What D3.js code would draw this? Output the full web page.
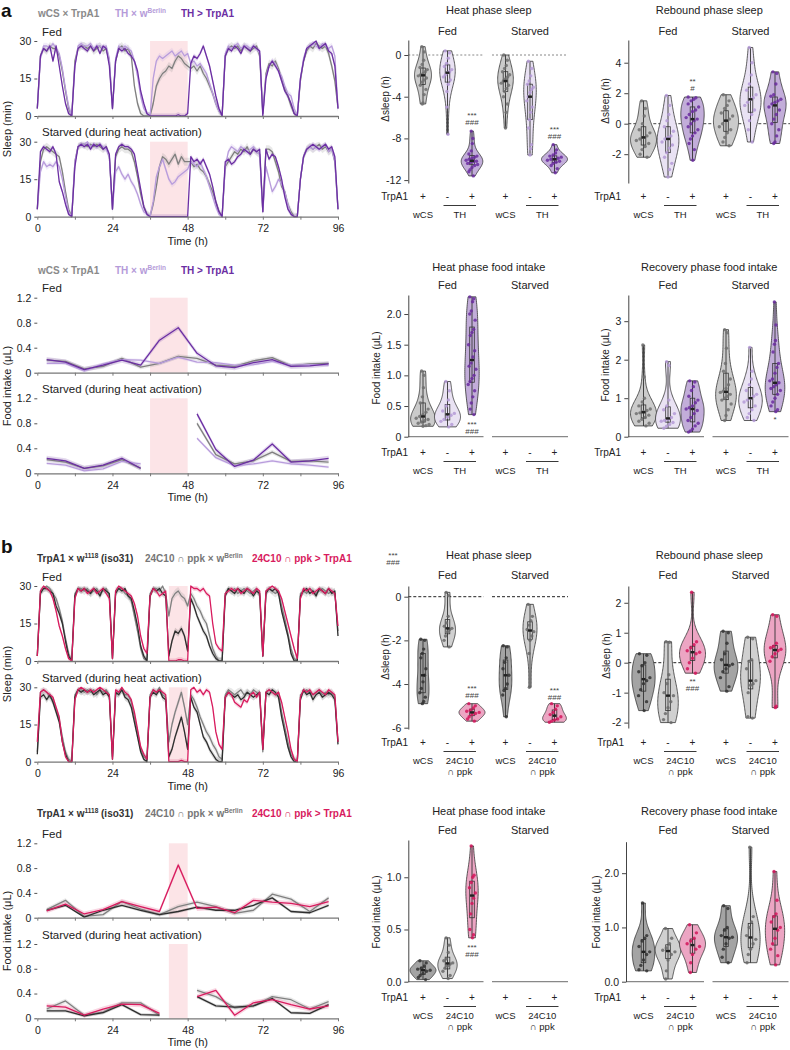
<!DOCTYPE html>
<html><head><meta charset="utf-8">
<script src="https://cdn.jsdelivr.net/npm/d3@7/dist/d3.min.js"></script>
<style>html,body{margin:0;padding:0;background:#fff;}</style>
</head><body>
<script>
// ===================== DATA =====================
const hours = d3.range(0, 97);            // hourly bins 0..96 h
const foodT = [3,9,15,21,27,33,39,45,51,57,63,69,75,81,87,93];
const timeTicks = [0,12,24,36,48,60,72,84,96];

// ---- a: sleep (min / 30 min), Fed ----
const aFedWCS = [3,24,27,26,28,27,27,24,18,10,3,0,22, 27,28,28,27,28,26,27,28,26,27,22,3, 22,27,28,26,27,24,12,5,1,0,0,0, 5,12,15,17,18,20,19,22,24,23,21,20, 19,20,18,20,17,15,12,9,5,2,0,24, 27,28,27,28,26,28,27,26,27,28,24,1, 17,21,20,22,19,15,11,8,4,1,0,14, 22,26,28,27,29,28,27,28,25,20,14,3];
const aFedTH  = [3,23,28,28,27,29,27,25,19,11,4,0,20, 28,29,28,28,29,27,28,28,27,28,23,3, 23,28,27,28,27,26,22,16,8,3,1,0, 15,22,24,23,24,25,26,24,25,26,24,25, 21,22,20,21,19,17,13,9,5,2,0,25, 28,27,28,29,27,28,28,27,28,27,25,1, 16,20,22,21,18,16,12,9,8,3,0,15, 23,27,28,29,28,27,29,28,27,28,24,3];
const aFedTrp = [3,24,27,26,28,22,28,20,12,5,1,0,20, 27,28,27,26,28,26,28,25,28,27,20,3, 22,27,26,27,25,24,22,18,10,5,1,0, 0,0,0,0,0,0,0,0,0.5,0,0,1, 21,24,23,25,28,24,20,14,8,3,0,24, 27,26,28,27,25,28,27,26,28,27,26,0, 15,20,22,20,18,14,10,8,5,1,0,15, 22,27,28,29,30,27,28,29,26,25,20,3];
// ---- a: sleep, Starved ----
const aStvWCS = [3,22,27,28,27,26,25,24,18,10,3,0,22, 28,29,29,28,29,28,29,28,27,28,24,3, 24,27,28,27,27,26,22,16,9,4,1,0, 5,12,20,24,23,21,23,25,21,24,22,22, 22,20,21,19,18,16,13,10,6,2,0,20, 22,24,26,25,27,26,28,25,27,26,25,2, 27,27,26,22,18,12,10,5,2,0,0,15, 24,27,28,27,28,29,27,28,26,27,22,3];
const aStvTH  = [3,18,22,20,21,20,22,20,15,8,2,0,22, 28,29,29,30,28,29,28,29,28,27,24,3, 18,20,17,15,17,14,12,9,5,2,1,0, 6,16,20,23,19,15,13,14,16,17,18,19, 22,21,20,22,19,16,12,8,4,1,0,20, 26,28,27,26,28,27,26,27,28,26,25,2, 20,15,10,12,15,13,10,5,1,0,0,15, 24,27,28,27,28,27,28,29,26,27,22,3];
const aStvTrp = [3,26,28,27,26,28,25,14,10,5,1,0,20, 28,29,28,29,27,29,28,29,27,28,25,3, 25,28,29,28,28,27,25,18,11,4,1,0, 0,0,0,0,0,0,0,0,0,0,0,0, 24,22,23,21,23,20,17,12,6,2,0,22, 23,21,22,24,25,27,26,25,27,26,27,2, 27,23,25,24,20,15,8,3,1,0,0,15, 24,27,28,29,28,27,28,29,27,28,24,3];

// ---- a: food intake (uL / 6 h) ----
const aFoodFedWCS = [0.20,0.18,0.06,0.10,0.23,0.09,0.15,0.26,0.23,0.12,0.10,0.19,0.24,0.11,0.14,0.15];
const aFoodFedTH  = [0.15,0.15,0.03,0.14,0.21,0.20,0.15,0.25,0.17,0.16,0.12,0.13,0.18,0.12,0.13,0.12];
const aFoodFedTrp = [0.21,0.17,0.05,0.12,0.20,0.12,0.52,0.72,0.31,0.11,0.08,0.16,0.21,0.10,0.11,0.14];
const aFoodStvWCS = [0.22,0.18,0.08,0.12,0.22,0.08,null,null,0.80,0.30,0.15,0.20,0.34,0.19,0.20,0.18];
const aFoodStvTH  = [0.16,0.13,0.04,0.07,0.19,0.15,null,null,0.56,0.25,0.12,0.15,0.20,0.15,0.13,0.10];
const aFoodStvTrp = [0.24,0.20,0.08,0.13,0.24,0.08,null,null,0.95,0.38,0.11,0.21,0.47,0.18,0.20,0.24];

// ---- b: sleep, Fed ----
const bFedIso = [2,27,29,29,28,27,22,19,15,8,2,0,26, 29,28,29,28,27,29,28,26,29,28,27,1, 27,29,28,29,26,25,20,14,6,2,0,26, 29,28,29,27,26,2,8,12,11,13,10,4, 25,22,18,15,12,10,6,3,1,0,0,26, 29,28,27,29,28,27,29,28,26,28,27,2, 27,29,28,29,27,20,15,10,3,0,0,26, 28,29,27,28,26,29,28,27,29,27,28,10];
const bFedGal = [2,28,29,30,29,27,25,21,16,9,3,0,27, 29,29,28,29,27,28,29,27,28,29,26,1, 28,29,29,27,26,24,18,12,5,1,0,27, 29,29,28,30,27,18,25,27,28,26,25,22, 27,25,22,20,17,15,10,5,2,0,0,27, 29,28,29,27,28,29,28,27,28,29,26,2, 28,29,28,27,28,22,17,11,5,1,0,27, 28,27,29,28,27,28,29,28,27,28,27,12];
const bFedTrp = [2,28,30,29,28,25,20,14,10,5,1,0,25, 29,28,29,27,28,29,27,28,29,27,25,1, 28,30,29,28,27,26,23,18,10,5,3,26, 29,28,26,27,28,0,0,0,0.5,0.5,0,0, 30,29,29,28,29,27,26,15,7,5,4,27, 28,29,28,29,27,28,29,28,27,29,28,2, 28,29,30,29,28,25,20,15,10,5,1,25, 29,28,29,27,28,29,28,27,29,28,27,14];
// ---- b: sleep, Starved ----
const bStvIso = [3,26,27,25,27,24,20,16,8,3,0,0,26, 29,28,29,28,29,27,28,29,27,28,26,1, 28,27,29,26,25,22,16,10,4,1,0,26, 28,27,29,26,25,2,5,10,14,18,12,5, 26,22,20,15,10,8,5,3,1,0,0,26, 28,27,26,27,25,26,28,27,26,27,28,5, 28,27,29,28,26,18,12,6,2,0,0,25, 29,27,28,25,27,28,26,27,28,27,25,7];
const bStvGal = [4,28,29,28,26,25,21,17,10,4,1,0,27, 29,29,28,29,28,29,27,29,28,29,27,2, 27,28,29,27,27,24,18,12,5,2,1,27, 29,28,30,27,26,8,15,20,24,28,22,15, 27,25,22,18,15,12,10,7,5,2,1,27, 29,28,27,28,29,27,28,27,29,28,27,4, 28,29,28,27,28,20,14,8,3,1,0,27, 28,29,28,27,28,29,27,28,27,28,26,8];
const bStvTrp = [8,28,29,28,27,26,22,18,8,2,0,0,25, 29,30,29,28,29,28,29,30,29,28,27,1, 29,28,30,28,27,25,20,13,6,3,1,26, 29,28,29,28,27,0,0,0,0,0.5,0,0, 29,30,28,29,27,29,28,22,12,7,5,26, 28,27,24,23,22,25,24,27,28,26,28,5, 28,29,28,27,28,24,18,12,5,1,0,26, 29,28,29,27,28,29,28,27,29,28,27,8];

// ---- b: food intake ----
const bFoodFedIso = [0.12,0.20,0.01,0.12,0.20,0.12,0.05,0.10,0.17,0.12,0.12,0.20,0.32,0.10,0.08,0.20];
const bFoodFedGal = [0.13,0.28,0.02,0.05,0.26,0.14,0.05,0.18,0.25,0.18,0.07,0.12,0.38,0.30,0.10,0.32];
const bFoodFedTrp = [0.11,0.22,0.06,0.13,0.26,0.18,0.10,0.85,0.15,0.17,0.08,0.28,0.25,0.23,0.18,0.26];
const bFoodStvIso = [0.12,0.12,0.04,0.09,0.22,0.06,0.05,null,0.35,0.20,0.18,0.20,0.32,0.09,0.08,0.22];
const bFoodStvGal = [0.15,0.28,0.05,0.10,0.25,0.25,0.05,null,0.45,0.35,0.17,0.20,0.35,0.30,0.15,0.27];
const bFoodStvTrp = [0.20,0.18,0.05,0.15,0.23,0.22,0.08,null,0.35,0.45,0.05,0.25,0.30,0.22,0.15,0.20];

// ---- violin data: [control, Gal4 x w, Gal4 > TrpA1] ----
const aHeatSleepFed = [
 [0.8,0.3,-0.5,-0.9,-1.2,-1.4,-1.6,-1.8,-1.9,-2.0,-2.2,-2.4,-2.6,-2.9,-3.3,-3.8,-4.6,-4.7],
 [0.4,0.2,-0.3,-0.8,-1.1,-1.4,-1.6,-1.7,-1.9,-2.1,-2.4,-2.8,-3.5,-5.0,-7.6],
 [-7.3,-8.0,-8.5,-9.2,-9.5,-9.7,-9.8,-9.9,-10.0,-10.1,-10.2,-10.2,-10.3,-10.4,-10.5,-10.6,-10.8,-11.0,-11.2,-11.6]];
const aHeatSleepStv = [
 [0,-0.5,-1.0,-1.3,-1.6,-1.9,-2.1,-2.3,-2.5,-2.7,-2.9,-3.2,-3.5,-4.0,-4.7,-5.5,-7.0],
 [-0.6,-1.3,-2.0,-2.5,-2.8,-3.1,-3.3,-3.6,-4.0,-4.4,-5.0,-5.5,-6.2,-7.0,-8.6,-9.0,-9.6],
 [-8.6,-9.1,-9.4,-9.6,-9.7,-9.8,-9.9,-10.0,-10.0,-10.1,-10.2,-10.3,-10.4,-10.6,-10.9,-11.3]];
const aReboundFed = [
 [1.5,1.0,0.5,0.0,-0.4,-0.6,-0.8,-0.9,-1.0,-1.1,-1.3,-1.5,-1.7,-2.0,-2.2],
 [1.85,1.2,0.6,0.2,-0.2,-0.5,-0.8,-0.9,-1.0,-1.2,-1.4,-1.6,-1.9,-2.2,-2.6,-3.0,-3.5],
 [1.75,1.7,1.6,1.5,1.3,1.1,0.9,0.8,0.6,0.4,0.3,0.2,0.0,-0.2,-0.4,-0.6,-0.8,-1.0,-1.3,-1.7,-2.4]];
const aReboundStv = [
 [1.9,1.5,1.2,1.0,0.7,0.5,0.3,0.2,0.0,-0.2,-0.4,-0.6,-0.9,-1.2,-1.45],
 [5.0,4.0,3.2,2.6,2.2,1.9,1.7,1.6,1.4,1.2,0.9,0.6,0.2,-0.4,-1.2],
 [3.4,3.3,2.6,1.9,1.8,1.6,1.5,1.4,1.3,1.1,0.9,0.6,0.3,0.0,-0.4,-0.8,-1.2,-1.3]];
const aHeatFoodFed = [
 [1.07,1.0,0.8,0.65,0.55,0.45,0.4,0.36,0.33,0.3,0.28,0.26,0.24,0.22,0.2,0.18,0.17],
 [0.9,0.75,0.6,0.5,0.42,0.38,0.35,0.32,0.28,0.25,0.2,0.16],
 [2.28,2.25,2.2,2.05,2.0,1.9,1.75,1.7,1.65,1.5,1.4,1.3,1.2,1.15,1.1,1.0,0.95,0.9,0.85,0.75,0.65,0.55,0.45,0.36]];
const aRecovFed = [
 [2.38,1.55,1.0,0.9,0.8,0.72,0.68,0.65,0.62,0.6,0.56,0.5,0.45,0.4,0.35,0.28],
 [1.95,1.85,0.95,0.8,0.7,0.6,0.5,0.45,0.42,0.4,0.37,0.32,0.27,0.22],
 [1.45,1.42,1.3,1.2,1.05,0.95,0.88,0.8,0.75,0.72,0.68,0.6,0.5,0.42,0.35,0.28,0.2,0.15,0.12]];
const aRecovStv = [
 [2.78,2.7,2.3,1.9,1.7,1.5,1.35,1.25,1.18,1.15,1.1,1.05,1.0,0.95,0.85,0.7,0.55,0.42],
 [2.32,1.7,1.5,1.35,1.2,1.1,1.05,1.0,0.95,0.9,0.8,0.7,0.6,0.5,0.42],
 [3.5,2.9,2.5,2.4,2.2,1.9,1.8,1.65,1.5,1.45,1.4,1.35,1.3,1.25,1.2,1.1,1.0,0.9,0.8,0.7,0.65]];

const bHeatSleepFed = [
 [-1.95,-2.0,-2.4,-2.6,-2.8,-3.3,-3.6,-3.9,-4.2,-4.4,-4.6,-4.8,-4.9],
 [0.2,0.05,-0.9,-1.2,-1.35,-1.45,-1.5,-1.6,-1.8,-2.0,-2.3],
 [-4.9,-5.0,-5.1,-5.2,-5.25,-5.3,-5.35,-5.4,-5.5,-5.6,-5.7]];
const bHeatSleepStv = [
 [-2.25,-2.3,-2.8,-3.0,-3.3,-3.6,-4.0,-4.2,-4.3,-4.5,-5.5],
 [-0.35,-0.9,-1.1,-1.3,-1.5,-1.6,-1.8,-2.0,-2.6,-4.15],
 [-4.9,-5.0,-5.15,-5.3,-5.4,-5.5,-5.6,-5.65,-5.7,-5.75]];
const bReboundFed = [
 [0.3,0.25,0.0,-0.1,-0.3,-0.5,-0.6,-0.7,-0.9,-1.1,-1.3,-1.6],
 [0.7,0.68,-0.4,-0.7,-1.0,-1.1,-1.3,-1.5,-1.7,-1.9,-2.0],
 [2.35,0.7,0.6,0.5,0.4,0.35,0.3,0.15,0.0,-0.2,-0.35]];
const bReboundStv = [
 [1.05,1.0,0.65,0.3,0.1,-0.05,-0.1,-0.2,-0.3,-0.5,-0.8,-0.95],
 [0.85,0.8,0.1,0.05,-0.2,-0.6,-0.7,-0.75,-1.0,-1.8,-1.85],
 [1.6,1.55,0.65,0.55,0.5,0.45,0.4,0.3,0.2,0.05,-1.45,-1.5]];
const bHeatFoodFed = [
 [0.2,0.18,0.15,0.13,0.12,0.11,0.1,0.08,0.06,0.04,0.02],
 [0.42,0.35,0.28,0.22,0.2,0.18,0.17,0.15,0.13,0.1,0.06,0.03],
 [1.3,1.02,1.0,0.95,0.9,0.85,0.8,0.75,0.65,0.5,0.45,0.42]];
const bRecovFed = [
 [1.45,0.85,0.8,0.75,0.65,0.55,0.5,0.4,0.3,0.22,0.2],
 [0.98,0.8,0.7,0.62,0.58,0.55,0.5,0.4,0.2,0.05],
 [1.05,0.9,0.8,0.75,0.7,0.65,0.6,0.5,0.35,0.17]];
const bRecovStv = [
 [1.4,1.35,1.0,0.95,0.85,0.82,0.8,0.7,0.6,0.45,0.35],
 [2.48,1.2,1.1,1.0,0.85,0.78,0.7,0.6,0.5,0.35],
 [2.03,1.5,1.25,1.2,1.1,1.0,0.95,0.8,0.7,0.6,0.48,0.31]];

const trpSigns = ['+','-','+'];
const groupNames = ['Fed','Starved'];

// ===================== DRAWING =====================
const FONT = '"Liberation Sans", Arial, Helvetica, sans-serif';
const svg = d3.select('body').append('svg').attr('width', 790).attr('height', 1050)
  .attr('font-family', FONT).style('display','block');

function T(g, x, y, s, o = {}) {
  const t = g.append('text').attr('x', x).attr('y', y)
    .attr('font-size', o.size || 10).attr('fill', o.fill || '#222')
    .attr('text-anchor', o.anchor || 'start');
  if (o.bold) t.attr('font-weight', 'bold');
  t.text(s);
  return t;
}

function legend(y, items) {
  items.forEach(it => {
    const t = svg.append('text').attr('x', it.x).attr('y', y).attr('font-size', 10)
      .attr('font-weight', 'bold').attr('fill', it.color);
    let shifted = false;
    it.parts.forEach(p => {
      const sp = t.append('tspan');
      if (typeof p === 'string') { if (shifted) { sp.attr('dy', 4); shifted = false; } sp.text(p); }
      else { sp.attr('dy', -4).attr('font-size', 6.5).text(p.sup); shifted = true; }
    });
  });
}

const xT = d3.scaleLinear().domain([0, 96]).range([37.3, 338]);

function tsPanel(o) {
  const g = svg.append('g');
  const y = d3.scaleLinear().domain([0, o.max]).range([o.yBot, o.yTop]);
  g.append('rect').attr('x', xT(o.heat[0])).attr('y', o.yTop)
    .attr('width', xT(o.heat[1]) - xT(o.heat[0])).attr('height', o.yBot - o.yTop)
    .attr('fill', '#fce4e7');
  const mk = s => o.times.map((t, i) => ({t, v: s.vals[i]}));
  o.series.forEach(s => {
    const area = d3.area().defined(d => d.v != null).x(d => xT(d.t))
      .y0(d => y(Math.max(0, d.v - s.sem))).y1(d => y(Math.min(o.max, d.v + s.sem)));
    g.append('path').attr('d', area(mk(s))).attr('fill', s.color).attr('opacity', 0.18);
  });
  o.series.forEach(s => {
    const line = d3.line().defined(d => d.v != null).x(d => xT(d.t)).y(d => y(d.v));
    g.append('path').attr('d', line(mk(s))).attr('fill', 'none').attr('stroke', s.color)
      .attr('stroke-width', 1.3).attr('stroke-linejoin', 'round');
  });
  const xa = d3.axisBottom(xT).tickValues(timeTicks).tickSize(3).tickSizeOuter(0).tickPadding(5)
    .tickFormat(d => (o.xLabels && d % 24 === 0) ? d : '');
  const gx = g.append('g').attr('transform', `translate(0,${o.yBot})`).call(xa);
  gx.select('.domain').attr('stroke', '#777').attr('stroke-width', 1.3);
  gx.selectAll('.tick line').attr('stroke', '#777');
  gx.selectAll('text').attr('font-size', 10.5).attr('font-family', FONT).attr('fill', '#222');
  const ya = d3.axisLeft(y).tickValues(o.ticks).tickSize(3).tickPadding(3).tickFormat(o.fmt);
  const gy = g.append('g').attr('transform', `translate(${xT(0)},0)`).call(ya);
  gy.select('.domain').remove();
  gy.selectAll('.tick line').attr('stroke', '#555');
  gy.selectAll('text').attr('font-size', 10.5).attr('font-family', FONT).attr('fill', '#222');
  T(g, 42, o.yTop - 5.5, o.label, {size: 11.5});
  if (o.xLabels) T(g, (xT(0) + xT(96)) / 2, o.yBot + 28, 'Time (h)', {size: 11, anchor: 'middle'});
}

function yLabel(x, y, s, size) {
  svg.append('text').attr('transform', `translate(${x},${y}) rotate(-90)`)
    .attr('text-anchor', 'middle').attr('font-size', size).attr('fill', '#222').text(s);
}

function violinShape(vals) {
  const n = vals.length;
  const sd = d3.deviation(vals);
  const bw = sd * Math.pow(n, -0.2);
  const [lo, hi] = d3.extent(vals);
  const dens = v0 => d3.mean(vals, v => Math.exp(-0.5 * ((v0 - v) / bw) ** 2)) / (bw * Math.sqrt(2 * Math.PI));
  const prof = d3.range(0, 61).map(i => { const yy = lo + (hi - lo) * i / 60; return {y: yy, d: dens(yy)}; });
  return {prof, dens, peak: d3.max(prof, p => p.d)};
}

function violinPanel(o) {
  const g = svg.append('g');
  const y = d3.scaleLinear().domain(o.domain).range([o.yBot, o.yTop]);
  const outer = d3.scalePoint().domain(groupNames).range(o.centers);
  const inner = d3.scalePoint().domain([0, 1, 2]).range([-24.5, 24.5]);

  if (o.dash) {
    const segs = o.dash.full ? [[o.axisX, 790]] :
      [[o.axisX, outer('Fed') + 36], [outer('Starved') - 38, outer('Starved') + 38]];
    segs.forEach(sg => g.append('line').attr('x1', sg[0]).attr('x2', sg[1])
      .attr('y1', y(0)).attr('y2', y(0)).attr('stroke', o.dash.color)
      .attr('stroke-width', 1).attr('stroke-dasharray', o.dash.pattern));
  }
  if (o.baseline) {
    [[o.axisX, outer('Fed') + 36], [outer('Starved') - 38, outer('Starved') + 38]].forEach(sg =>
      g.append('line').attr('x1', sg[0]).attr('x2', sg[1]).attr('y1', y(0)).attr('y2', y(0))
        .attr('stroke', '#888').attr('stroke-width', 1.3));
  }

  const shapes = [];
  [o.fed, o.stv].forEach((grp, gi) => {
    if (!grp) return;
    grp.forEach((vals, ii) => shapes.push(Object.assign({gi, ii, vals}, violinShape(vals))));
  });
  const P = d3.max(shapes, s => s.peak);
  shapes.forEach(s => {
    const cx = outer(groupNames[s.gi]) + inner(s.ii);
    const k = o.maxHalf * Math.sqrt(s.peak / P) / s.peak;
    const area = d3.area().y(p => y(p.y)).x0(p => cx - p.d * k).x1(p => cx + p.d * k)
      .curve(d3.curveMonotoneY);
    g.append('path').attr('d', area(s.prof)).attr('fill', o.fills[s.ii])
      .attr('stroke', '#333').attr('stroke-width', 0.8);
    const sorted = s.vals.slice().sort(d3.ascending);
    const q1 = d3.quantile(sorted, 0.25), q3 = d3.quantile(sorted, 0.75), md = d3.quantile(sorted, 0.5);
    g.append('line').attr('x1', cx).attr('x2', cx).attr('y1', y(sorted[0])).attr('y2', y(sorted[sorted.length - 1]))
      .attr('stroke', '#333').attr('stroke-width', 0.9);
    g.append('rect').attr('x', cx - 2.3).attr('width', 4.6).attr('y', y(q3)).attr('height', Math.max(0.5, y(q1) - y(q3)))
      .attr('fill', 'none').attr('stroke', '#333').attr('stroke-width', 0.8);
    s.vals.forEach((v, i) => {
      const hw = s.dens(v) * k;
      const f = (((i * 7) % 9) - 4) / 4 * 0.55;
      g.append('circle').attr('cx', cx + f * hw).attr('cy', y(v)).attr('r', 1.7)
        .attr('fill', o.pts[s.ii]).attr('opacity', 0.85);
    });
    g.append('rect').attr('x', cx - 2).attr('width', 4).attr('y', y(md) - 1.2).attr('height', 2.4).attr('fill', '#222');
  });

  const ya = d3.axisLeft(y).tickValues(o.ticks).tickSize(4).tickSizeOuter(0).tickPadding(3).tickFormat(o.fmt);
  const gy = g.append('g').attr('transform', `translate(${o.axisX},0)`).call(ya);
  gy.select('.domain').attr('stroke', '#444');
  gy.selectAll('.tick line').attr('stroke', '#444');
  gy.selectAll('text').attr('font-size', 10.5).attr('font-family', FONT).attr('fill', '#222');

  T(g, (o.centers[0] + o.centers[1]) / 2, o.titleY, o.title, {size: 11, anchor: 'middle'});
  groupNames.forEach(gn => T(g, outer(gn), o.groupY, gn, {size: 11, anchor: 'middle'}));
  yLabel(o.yLab[0], o.yLab[1], o.yLabText, 10);

  T(g, o.trpX, o.rowY, 'TrpA1', {size: 10, anchor: 'end'});
  groupNames.forEach(gn => {
    const c = outer(gn);
    trpSigns.forEach((sg, ii) => T(g, c + inner(ii), o.rowY, sg, {size: 10, anchor: 'middle'}));
    g.append('line').attr('x1', c + inner(1) - 4).attr('x2', c + inner(2) + 4)
      .attr('y1', o.rowY + 5.5).attr('y2', o.rowY + 5.5).attr('stroke', '#222').attr('stroke-width', 0.9);
    T(g, c + inner(0), o.rowY + 18, o.geno[0], {size: 9.5, anchor: 'middle'});
    o.geno[1].forEach((ln, li) => T(g, c + (inner(1) + inner(2)) / 2, o.rowY + 18 + li * 10.5, ln, {size: 9.5, anchor: 'middle'}));
  });

  (o.ann || []).forEach(a => {
    const cx = outer(a.g) + inner(a.i);
    const c = y(a.v);
    a.lines.forEach((ln, li) => T(g, cx, c + (ln[0] === '*' ? 4.5 : 3) + li * 8.5, ln, {size: 8, anchor: 'middle', fill: '#444'}));
  });
}

// ---------- panel letters & legends ----------
T(svg, 1, 17, 'a', {size: 19, bold: true, fill: '#111'});
T(svg, 1, 553, 'b', {size: 19, bold: true, fill: '#111'});

const colA = ['#7f7f7f', '#b89cdc', '#6b2ea3'];
const colB = ['#2e2e2e', '#808080', '#d81b5e'];
const legA = [
  {x: 38, color: '#8a8a8a', parts: ['wCS × TrpA1']},
  {x: 115, color: '#b59bd9', parts: ['TH × w', {sup: 'Berlin'}]},
  {x: 181, color: '#6b2ea3', parts: ['TH > TrpA1']}];
const legB = [
  {x: 37, color: '#333', parts: ['TrpA1 × w', {sup: '1118'}, ' (iso31)']},
  {x: 145, color: '#777', parts: ['24C10 ∩ ppk × w', {sup: 'Berlin'}]},
  {x: 252, color: '#d81b5e', parts: ['24C10 ∩ ppk > TrpA1']}];
legend(17, legA);
legend(274, legA);
legend(562, legB);
legend(817, legB);

// ---------- time series ----------
const sleepFmt = d => String(d);
const foodFmt = d => d === 0 ? '0' : d.toFixed(1);
const sleepSem = [1.6, 1.3, 1.0];
const foodSem = [0.035, 0.025, 0.04];
function ser(vals, cols, sems) { return vals.map((v, i) => ({vals: v, color: cols[i], sem: sems[i]})); }

tsPanel({yTop: 41, yBot: 116, max: 30, ticks: [0, 15, 30], fmt: sleepFmt, label: 'Fed', heat: [36, 48],
  times: hours, series: ser([aFedWCS, aFedTH, aFedTrp], colA, sleepSem), xLabels: false});
tsPanel({yTop: 141.7, yBot: 216.7, max: 30, ticks: [0, 15, 30], fmt: sleepFmt, label: 'Starved (during heat activation)', heat: [36, 48],
  times: hours, series: ser([aStvWCS, aStvTH, aStvTrp], colA, sleepSem), xLabels: true});
yLabel(11, 129, 'Sleep (min)', 11);

tsPanel({yTop: 297.7, yBot: 372.7, max: 1.2, ticks: [0, 0.4, 0.8, 1.2], fmt: foodFmt, label: 'Fed', heat: [36, 48],
  times: foodT, series: ser([aFoodFedWCS, aFoodFedTH, aFoodFedTrp], colA, foodSem), xLabels: false});
tsPanel({yTop: 398.3, yBot: 473.3, max: 1.2, ticks: [0, 0.4, 0.8, 1.2], fmt: foodFmt, label: 'Starved (during heat activation)', heat: [36, 48],
  times: foodT, series: ser([aFoodStvWCS, aFoodStvTH, aFoodStvTrp], colA, foodSem), xLabels: true});
yLabel(11, 386, 'Food intake (μL)', 11);

tsPanel({yTop: 586, yBot: 661, max: 30, ticks: [0, 15, 30], fmt: sleepFmt, label: 'Fed', heat: [42, 48],
  times: hours, series: ser([bFedGal, bFedIso, bFedTrp], [colB[1], colB[0], colB[2]], sleepSem), xLabels: false});
tsPanel({yTop: 687.3, yBot: 761.7, max: 30, ticks: [0, 15, 30], fmt: sleepFmt, label: 'Starved (during heat activation)', heat: [42, 48],
  times: hours, series: ser([bStvGal, bStvIso, bStvTrp], [colB[1], colB[0], colB[2]], sleepSem), xLabels: true});
yLabel(11, 674, 'Sleep (min)', 11);

tsPanel({yTop: 843.3, yBot: 917.7, max: 1.2, ticks: [0, 0.4, 0.8, 1.2], fmt: foodFmt, label: 'Fed', heat: [42, 48],
  times: foodT, series: ser([bFoodFedGal, bFoodFedIso, bFoodFedTrp], [colB[1], colB[0], colB[2]], foodSem), xLabels: false});
tsPanel({yTop: 944, yBot: 1018.3, max: 1.2, ticks: [0, 0.4, 0.8, 1.2], fmt: foodFmt, label: 'Starved (during heat activation)', heat: [42, 48],
  times: foodT, series: ser([bFoodStvGal, bFoodStvIso, bFoodStvTrp], [colB[1], colB[0], colB[2]], foodSem), xLabels: true});
yLabel(11, 931, 'Food intake (μL)', 11);

// ---------- violins ----------
const fillsA = ['#cbcbcb', '#e9e2f3', '#c2add9'];
const ptsA = ['#707070', '#b49ad6', '#6a2c9f'];
const fillsB = ['#a4a4a4', '#d0d0d0', '#eca5c3'];
const ptsB = ['#333333', '#6a6a6a', '#d4145a'];
const genoA = ['wCS', ['TH']];
const genoB = ['wCS', ['24C10', '∩ ppk']];
const L = [447.5, 530], R = [668, 750.5];
const intFmt = d => String(d);

violinPanel({axisX: 408.3, centers: L, yTop: 40, yBot: 183, domain: [-12.28, 1.44], ticks: [0, -4, -8, -12], fmt: intFmt,
  fed: aHeatSleepFed, stv: aHeatSleepStv, fills: fillsA, pts: ptsA, maxHalf: 13,
  dash: {color: '#888', pattern: '2,2'}, title: 'Heat phase sleep', titleY: 14, groupY: 35,
  yLab: [388.5, 99], yLabText: 'Δsleep (h)', trpX: 408, rowY: 200, geno: genoA,
  ann: [{g: 'Fed', i: 2, v: -5.57, lines: ['***', '###']}, {g: 'Starved', i: 2, v: -6.98, lines: ['***', '###']}]});
violinPanel({axisX: 628.3, centers: R, yTop: 40, yBot: 183, domain: [-3.89, 5.49], ticks: [-2, 0, 2, 4], fmt: intFmt,
  fed: aReboundFed, stv: aReboundStv, fills: fillsA, pts: ptsA, maxHalf: 13,
  dash: {color: '#444', pattern: '3,2', full: true}, title: 'Rebound phase sleep', titleY: 14, groupY: 35,
  yLab: [608.5, 101], yLabText: 'Δsleep (h)', trpX: 621, rowY: 200, geno: genoA,
  ann: [{g: 'Fed', i: 2, v: 2.91, lines: ['**', '#']}]});
violinPanel({axisX: 408.3, centers: L, yTop: 295, yBot: 436.7, domain: [0, 2.31], ticks: [0, 0.5, 1, 1.5, 2], fmt: foodFmt,
  fed: aHeatFoodFed, stv: null, fills: fillsA, pts: ptsA, maxHalf: 13, baseline: true,
  title: 'Heat phase food intake', titleY: 271, groupY: 289,
  yLab: [380, 368], yLabText: 'Food intake (μL)', trpX: 408, rowY: 456, geno: genoA,
  ann: [{g: 'Fed', i: 2, v: 0.23, lines: ['***', '###']}]});
violinPanel({axisX: 628.3, centers: R, yTop: 295, yBot: 436.7, domain: [0, 3.68], ticks: [0, 1, 2, 3], fmt: intFmt,
  fed: aRecovFed, stv: aRecovStv, fills: fillsA, pts: ptsA, maxHalf: 13, baseline: true,
  title: 'Recovery phase food intake', titleY: 271, groupY: 289,
  yLab: [608.5, 365], yLabText: 'Food intake (μL)', trpX: 621, rowY: 456, geno: genoA,
  ann: [{g: 'Starved', i: 2, v: 0.5, lines: ['*']}]});

violinPanel({axisX: 408.3, centers: L, yTop: 586, yBot: 729, domain: [-6.06, 0.49], ticks: [0, -2, -4, -6], fmt: intFmt,
  fed: bHeatSleepFed, stv: bHeatSleepStv, fills: fillsB, pts: ptsB, maxHalf: 13,
  dash: {color: '#222', pattern: '3,2'}, title: 'Heat phase sleep', titleY: 559, groupY: 579,
  yLab: [388.5, 657], yLabText: 'Δsleep (h)', trpX: 408, rowY: 746, geno: genoB,
  ann: [{g: 'Fed', i: 2, v: -4.12, lines: ['***', '###']}, {g: 'Starved', i: 2, v: -4.2, lines: ['***', '###']}]});
violinPanel({axisX: 628.3, centers: R, yTop: 586, yBot: 728, domain: [-2.18, 2.56], ticks: [-2, -1, 0, 1, 2], fmt: intFmt,
  fed: bReboundFed, stv: bReboundStv, fills: fillsB, pts: ptsB, maxHalf: 13,
  dash: {color: '#222', pattern: '3,2', full: true}, title: 'Rebound phase sleep', titleY: 559, groupY: 579,
  yLab: [610, 656], yLabText: 'Δsleep (h)', trpX: 624, rowY: 746, geno: genoB,
  ann: [{g: 'Fed', i: 2, v: -0.55, lines: ['**', '###']}]});
violinPanel({axisX: 408.3, centers: L, yTop: 840, yBot: 981.7, domain: [0, 1.357], ticks: [0, 0.5, 1.0], fmt: d => d.toFixed(1),
  fed: bHeatFoodFed, stv: null, fills: fillsB, pts: ptsB, maxHalf: 13, baseline: true,
  title: 'Heat phase food intake', titleY: 815, groupY: 834,
  yLab: [380, 912], yLabText: 'Food intake (μL)', trpX: 408, rowY: 1001, geno: genoB,
  ann: [{g: 'Fed', i: 2, v: 0.345, lines: ['***', '###']}]});
violinPanel({axisX: 626, centers: R, yTop: 841.7, yBot: 981.7, domain: [0, 2.58], ticks: [0, 1, 2], fmt: d => d.toFixed(1),
  fed: bRecovFed, stv: bRecovStv, fills: fillsB, pts: ptsB, maxHalf: 13, baseline: true,
  title: 'Recovery phase food intake', titleY: 815, groupY: 834,
  yLab: [600, 912], yLabText: 'Food intake (μL)', trpX: 621, rowY: 1001, geno: genoB});

// stray significance marks in panel b
T(svg, 393, 557.5, '***', {size: 8, anchor: 'middle', fill: '#444'});
T(svg, 393, 565, '###', {size: 8, anchor: 'middle', fill: '#444'});
</script>
</body></html>
